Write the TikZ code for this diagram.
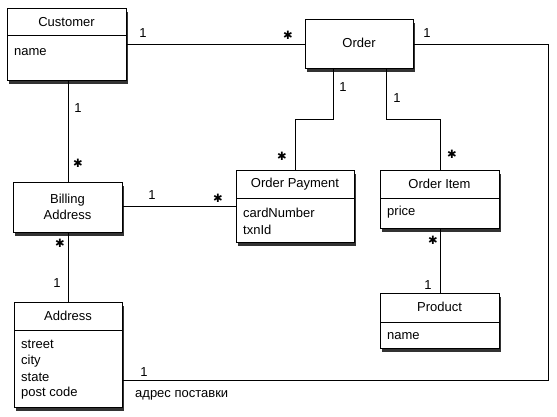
\documentclass[tikz,border=0pt]{standalone}
\usepackage{fontspec}
\setmainfont{Liberation Sans}
\newfontfamily\symfont{DejaVu Sans}
\usetikzlibrary{shadows,calc}
\begin{document}
\begin{tikzpicture}[x=1pt,y=-1pt,
  font=\fontsize{13}{15.5}\selectfont,
  cls/.style={draw, line width=1.2pt, fill=white, anchor=north west, inner sep=0pt,
    drop shadow={shadow xshift=1.2pt, shadow yshift=-3pt, fill=black!80, opacity=1}},
  attr/.style={anchor=west, inner sep=0pt},
  ttl/.style={inner sep=0pt},
  conn/.style={line width=1pt},
  mult/.style={inner sep=0pt},
  star/.style={inner sep=0pt, font=\symfont\fontsize{11.5}{11.5}\selectfont}]
\useasboundingbox (0,0) rectangle (557,416);
\fill[white] (0,0) rectangle (557,416);

% classes
\node[cls, minimum width=119pt, minimum height=72pt] (cust) at (7,8) {};
\draw[line width=1pt] (7,35) -- (126,35);
\node[ttl] (custT) at (66.5,22) {Customer};
\node[attr] (custA) at (14,52) {name};

\node[cls, minimum width=108pt, minimum height=49pt] (order) at (305,19) {};
\node[ttl] (orderT) at (359,43) {Order};

\node[cls, minimum width=118pt, minimum height=72pt] (pay) at (236,170) {};
\draw[line width=1pt] (236,198) -- (354,198);
\node[ttl] (payT) at (295,184) {Order Payment};
\node[attr] (payA1) at (243,213) {cardNumber};
\node[attr] (payA2) at (243,229.5) {txnId};

\node[cls, minimum width=119pt, minimum height=58pt] (item) at (380,170) {};
\draw[line width=1pt] (380,198) -- (499,198);
\node[ttl] (itemT) at (439.5,184) {Order Item};
\node[attr] (itemA) at (387,212) {price};

\node[cls, minimum width=119pt, minimum height=55pt] (prod) at (380,293) {};
\draw[line width=1pt] (380,322) -- (499,322);
\node[ttl] (prodT) at (439.5,307) {Product};
\node[attr] (prodA) at (387,336) {name};

\node[cls, minimum width=109pt, minimum height=50pt] (bill) at (13,182) {};
\node[ttl, align=center] (billT) at (67.5,207) {Billing\\Address};

\node[cls, minimum width=108pt, minimum height=105pt] (addr) at (14,302) {};
\draw[line width=1pt] (14,330) -- (122,330);
\node[ttl] (addrT) at (68,316) {Address};
\node[attr] (addrA1) at (21,344) {street};
\node[attr] (addrA2) at (21,361) {city};
\node[attr] (addrA3) at (21,377.5) {state};
\node[attr] (addrA4) at (21,393) {post code};

% connectors
\coordinate (rc) at (548,380);
\draw[conn] (order.west -| cust.east) -- (order.west);
\draw[conn] (order.east) -| (rc) -- (rc -| addr.east);
\draw[conn] ([xshift=-26pt]order.south) -- ++(0,50) -| (pay.north);
\draw[conn] ([xshift=27pt]order.south) -- ++(0,50) -| (item.north);
\draw[conn] (item.south) -- (item.south |- prod.north);
\draw[conn] (bill.east |- pay.west) -- (pay.west);
\draw[conn] (bill.north |- cust.south) -- (bill.north);
\draw[conn] (bill.south) -- (bill.south |- addr.north);

% multiplicities
\node[mult] (m1) at (143,33) {1};
\node[star] (s1) at (288,35) {✱};
\node[mult] (m2) at (427,33) {1};
\node[mult] (m3) at (343,87) {1};
\node[star] (s2) at (282,156) {✱};
\node[mult] (m4) at (397,98) {1};
\node[star] (s3) at (452,154) {✱};
\node[star] (s4) at (433,240) {✱};
\node[mult] (m5) at (428,285) {1};
\node[mult] (m6) at (152,195) {1};
\node[star] (s5) at (218,198) {✱};
\node[mult] (m7) at (78,108) {1};
\node[star] (s6) at (78,163) {✱};
\node[star] (s7) at (60,243) {✱};
\node[mult] (m8) at (57,283) {1};
\node[mult] (m9) at (144,372) {1};
\node[inner sep=0pt, anchor=west] (lbl) at (135,395) {адрес поставки};
\end{tikzpicture}
\end{document}
